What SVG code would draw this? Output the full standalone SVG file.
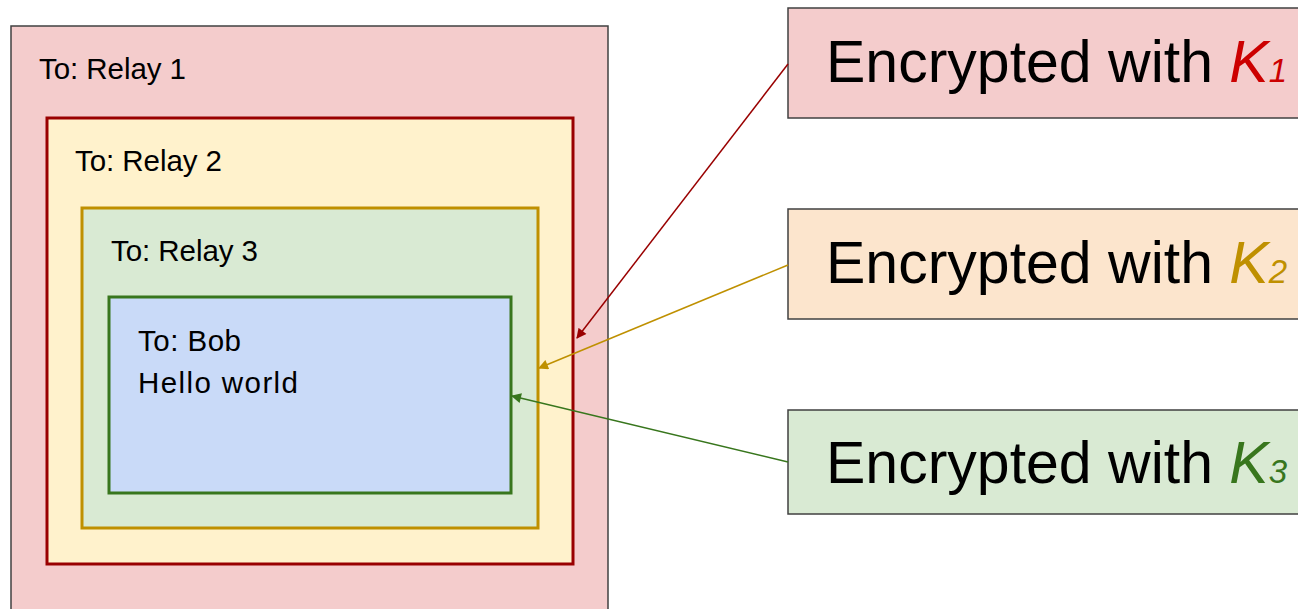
<svg xmlns="http://www.w3.org/2000/svg" width="1298" height="609" viewBox="0 0 1298 609">
  <style>
    .lbl { font-family: "Liberation Sans", Arial, sans-serif; font-size: 29.5px; fill: #000; }
    .big { font-family: "Liberation Sans", Arial, sans-serif; font-size: 59px; fill: #000; }
    .key { font-style: italic; }
    .sub { font-size: 33px; }
    .tag { stroke: #404040; stroke-width: 1.5; }
    .conn { fill: none; stroke-width: 1.5; }
  </style>
  <defs>
    <marker id="ah-red" viewBox="0 0 10 10" refX="9" refY="5" markerWidth="11" markerHeight="10" markerUnits="userSpaceOnUse" orient="auto">
      <path d="M0,0 L10,5 L0,10 Z" fill="#990000"/>
    </marker>
    <marker id="ah-gold" viewBox="0 0 10 10" refX="9" refY="5" markerWidth="11" markerHeight="10" markerUnits="userSpaceOnUse" orient="auto">
      <path d="M0,0 L10,5 L0,10 Z" fill="#BF9000"/>
    </marker>
    <marker id="ah-green" viewBox="0 0 10 10" refX="9" refY="5" markerWidth="11" markerHeight="10" markerUnits="userSpaceOnUse" orient="auto">
      <path d="M0,0 L10,5 L0,10 Z" fill="#38761D"/>
    </marker>
  </defs>

  <rect width="1298" height="609" fill="#fff"/>

  <!-- nested onion layers -->
  <g id="layer-relay1">
    <rect x="11" y="26" width="597" height="600" fill="#F4CCCC" stroke="#404040" stroke-width="1.5"/>
    <text class="lbl" x="39" y="79" textLength="147" lengthAdjust="spacing">To: Relay 1</text>
  </g>
  <g id="layer-relay2">
    <rect x="47" y="118" width="526" height="446" fill="#FFF2CC" stroke="#990000" stroke-width="3"/>
    <text class="lbl" x="75" y="171" textLength="147" lengthAdjust="spacing">To: Relay 2</text>
  </g>
  <g id="layer-relay3">
    <rect x="82" y="208" width="456" height="320" fill="#D9EAD3" stroke="#BF9000" stroke-width="3"/>
    <text class="lbl" x="111" y="261" textLength="147" lengthAdjust="spacing">To: Relay 3</text>
  </g>
  <g id="layer-bob">
    <rect x="109" y="297" width="402" height="196" fill="#C9DAF8" stroke="#38761D" stroke-width="3"/>
    <text class="lbl" x="138" y="351" textLength="103" lengthAdjust="spacing">To: Bob</text>
    <text class="lbl" x="138" y="393" textLength="160" lengthAdjust="spacing">Hello world</text>
  </g>

  <!-- key labels -->
  <g id="key-k1">
    <rect class="tag" x="788" y="8" width="530" height="110" fill="#F4CCCC"/>
    <text class="big" x="826" y="82">Encrypted with <tspan class="key" fill="#CC0000">K</tspan><tspan class="key sub" fill="#CC0000">1</tspan></text>
  </g>
  <g id="key-k2">
    <rect class="tag" x="788" y="209" width="530" height="110" fill="#FCE5CD"/>
    <text class="big" x="826" y="283">Encrypted with <tspan class="key" fill="#BF9000">K</tspan><tspan class="key sub" fill="#BF9000">2</tspan></text>
  </g>
  <g id="key-k3">
    <rect class="tag" x="788" y="410" width="530" height="104" fill="#D9EAD3"/>
    <text class="big" x="826" y="483">Encrypted with <tspan class="key" fill="#38761D">K</tspan><tspan class="key sub" fill="#38761D">3</tspan></text>
  </g>

  <!-- connectors -->
  <g id="connectors">
    <line class="conn" x1="788" y1="64" x2="577" y2="338" stroke="#990000" marker-end="url(#ah-red)"/>
    <line class="conn" x1="788" y1="265" x2="539" y2="368" stroke="#BF9000" marker-end="url(#ah-gold)"/>
    <line class="conn" x1="788" y1="462" x2="512" y2="396" stroke="#38761D" marker-end="url(#ah-green)"/>
  </g>
</svg>
